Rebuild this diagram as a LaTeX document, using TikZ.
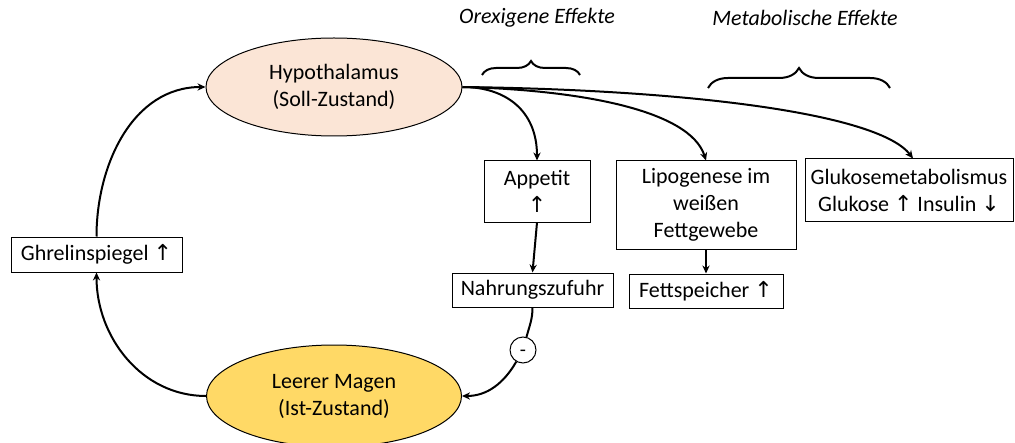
\documentclass[tikz,border=0pt]{standalone}
\usepackage{fontspec}
\setmainfont{Carlito}
\newfontfamily\arrfont[Scale=1.0]{DejaVu Sans}
\newcommand{\uparr}{{\arrfont ↑}}
\newcommand{\dnarr}{{\arrfont ↓}}
\usetikzlibrary{arrows.meta,shapes.geometric,decorations.pathreplacing}
\begin{document}
\begin{tikzpicture}[x=0.5pt,y=-0.5pt,
  every node/.style={font=\fontsize{11}{13.5}\selectfont, inner sep=0pt},
  box/.style={draw, line width=0.5pt, fill=white, rectangle, align=center},
  oval/.style={draw, line width=0.5pt, ellipse, align=center},
  conn/.style={line width=1pt, -{Stealth[length=4pt,width=3.6pt]}},
  plain/.style={line width=1pt},
  bracestyle/.style={line width=1pt, decorate},
  hdr/.style={font=\fontsize{11}{13.5}\selectfont\itshape}
]
\useasboundingbox (0,0) rectangle (1015,443);
\definecolor{hypofill}{HTML}{FBE5D6}
\definecolor{magenfill}{HTML}{FFD966}

% nodes
\node[oval, fill=hypofill, minimum width=128pt, minimum height=49pt] (hypo) at (334,87) {Hypothalamus\\(Soll-Zustand)};
\node[oval, fill=magenfill, minimum width=127.5pt, minimum height=51pt] (magen) at (334,396) {Leerer Magen\\(Ist-Zustand)};
\node[box, minimum width=85.5pt, minimum height=17.5pt] (ghrel) at (96.5,254.5) {Ghrelinspiegel \uparr};
\node[box, minimum width=53pt, minimum height=30.5pt] (appetit) at (537,191.5) {Appetit\\\uparr};
\node[box, minimum width=80.5pt, minimum height=17pt] (nahr) at (532.5,290) {Nahrungszufuhr};
\node[box, minimum width=90pt, minimum height=44pt] (lipo) at (706,205) {Lipogenese im\\weißen\\Fettgewebe};
\node[box, minimum width=77pt, minimum height=17pt] (fett) at (706,291) {Fettspeicher \uparr};
\node[box, minimum width=104pt, minimum height=31pt] (gluko) at (909,190) {Glukosemetabolismus\\Glukose \uparr{} Insulin \dnarr};
\node[draw, circle, line width=0.5pt, fill=white, minimum size=13pt, text height=6.5pt, text depth=0pt, font=\fontsize{10}{11}\selectfont] (minus) at (523,350) {-};

\node[hdr] (orex) at (537,18) {Orexigene Effekte};
\node[hdr] (meta) at (805,18) {Metabolische Effekte};

% braces
\coordinate (b1l) at (482,75);
\coordinate (b1r) at (580,75);
\coordinate (b2l) at (708,88);
\coordinate (b2r) at (890,88);
\draw[bracestyle, decoration={brace, amplitude=7pt}] (b1l) -- (b1r);
\draw[bracestyle, decoration={brace, amplitude=10pt}] (b2l) -- (b2r);

% connectors
\draw[conn] (magen.west) to[out=180, in=-90] (ghrel.south);
\draw[conn] (ghrel.north) to[out=90, in=180] (hypo.west);
\draw[conn] (hypo.east) .. controls (505,87) and (537,110) .. (appetit.north);
\draw[conn] (hypo.east) .. controls (580,90) and (690,110) .. (lipo.north);
\draw[conn] (hypo.east) .. controls (700,90) and (880,115) .. ([xshift=2pt]gluko.north);
\draw[conn] (appetit.south) -- (nahr.north);
\draw[conn] (lipo.south) -- (fett.north);
\draw[plain] (nahr.south) to[out=-90, in=75] (minus);
\draw[conn] (minus) to[out=-120, in=0] (magen.east);
\end{tikzpicture}
\end{document}
